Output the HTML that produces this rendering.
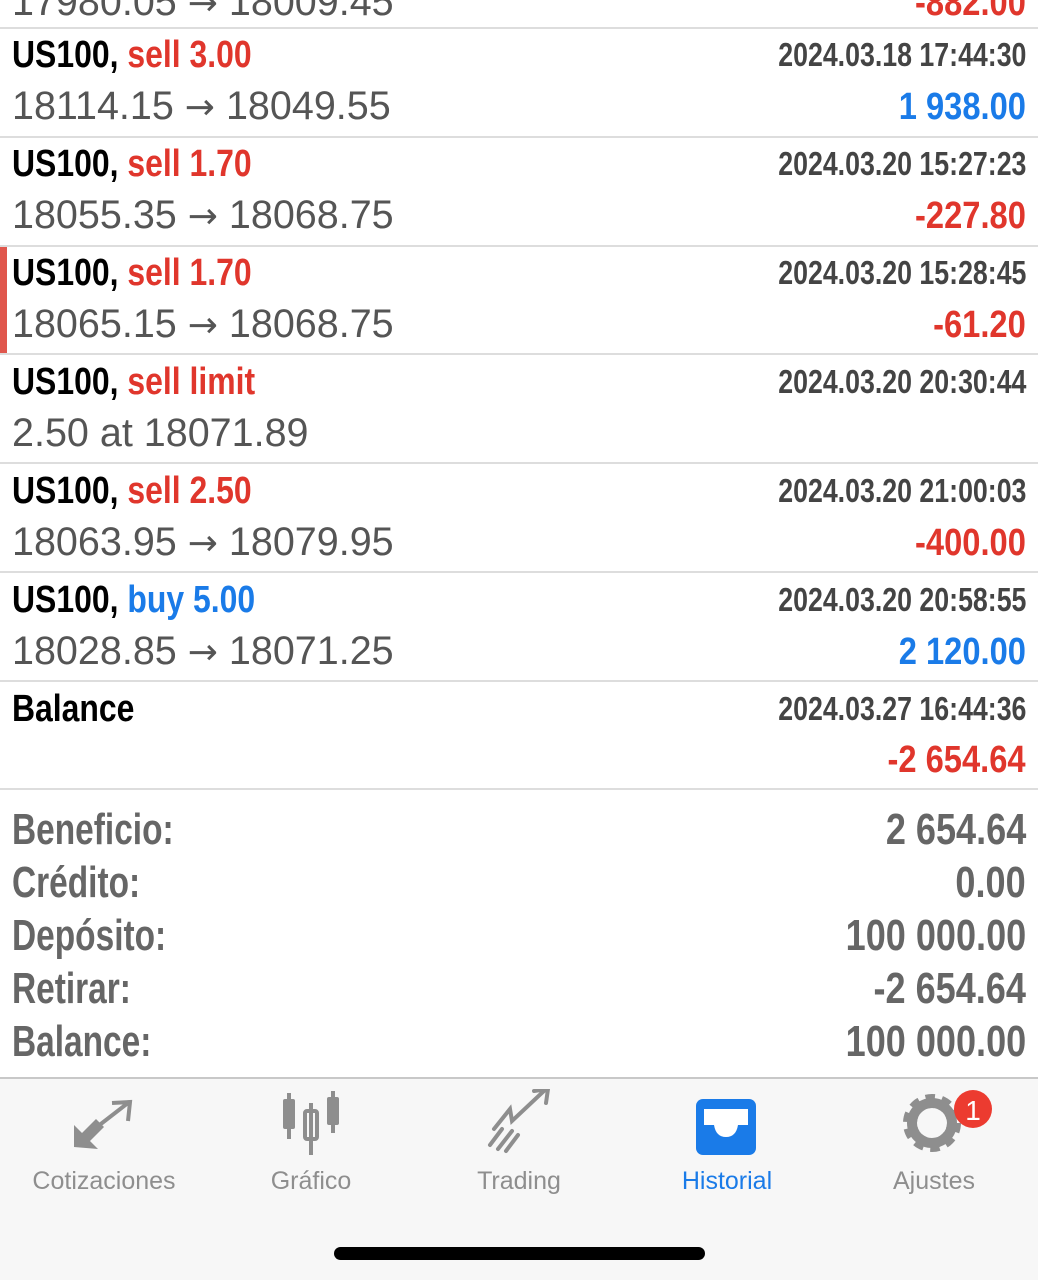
<!DOCTYPE html>
<html><head><meta charset="utf-8"><meta name="viewport" content="width=1038"><style>
html,body{margin:0;width:1038px;height:1280px;overflow:hidden}
body{background:#fff;position:relative;font-family:"Liberation Sans",sans-serif}
.a{position:absolute;white-space:nowrap;line-height:1}
.l{transform-origin:left top}.r{transform-origin:right top;text-align:right}
.t{font-size:38px;font-weight:bold;color:#000;transform:scaleX(.84)}
.p{font-size:39.5px;color:#555;top:0}
.ar{font-family:"DejaVu Sans",sans-serif;font-size:36px}
.d{font-size:33px;font-weight:bold;color:#444;transform:scaleX(.81)}
.m{font-size:38px;font-weight:bold;transform:scaleX(.86)}
.s{font-size:44px;font-weight:bold;color:#666;transform:scaleX(.82)}
.sl{transform:scaleX(.76)}
.red{color:#e0362c}.blue{color:#1a7be8}
.sep{position:absolute;left:0;width:1038px;height:2px;background:#ddd}
.tab{position:absolute;top:88px;font-size:25px;color:#8e8e8e;width:208px;text-align:center}
</style></head><body>
<div class="a l p" style="left:12px;top:-17px">17980.05 <span class="ar">→</span> 18009.45</div>
<div class="a r m red" style="right:12px;top:-16px">-882.00</div>
<div class="sep" style="top:27px"></div>

<div>
<div class="a l t" style="left:12px;top:36px">US100, <span class="red">sell 3.00</span></div>
<div class="a r d" style="right:12px;top:38px">2024.03.18 17:44:30</div>
<div class="a l p" style="left:12px;top:87px">18114.15 <span class="ar">→</span> 18049.55</div>
<div class="a r m blue" style="right:12px;top:88px">1 938.00</div>
</div>
<div class="sep" style="top:136px"></div>

<div>
<div class="a l t" style="left:12px;top:145px">US100, <span class="red">sell 1.70</span></div>
<div class="a r d" style="right:12px;top:147px">2024.03.20 15:27:23</div>
<div class="a l p" style="left:12px;top:196px">18055.35 <span class="ar">→</span> 18068.75</div>
<div class="a r m red" style="right:12px;top:197px">-227.80</div>
</div>
<div class="sep" style="top:245px"></div>

<div>
<div style="position:absolute;left:0;top:247px;width:7px;height:106px;background:#e0574d"></div>
<div class="a l t" style="left:12px;top:254px">US100, <span class="red">sell 1.70</span></div>
<div class="a r d" style="right:12px;top:256px">2024.03.20 15:28:45</div>
<div class="a l p" style="left:12px;top:305px">18065.15 <span class="ar">→</span> 18068.75</div>
<div class="a r m red" style="right:12px;top:306px">-61.20</div>
</div>
<div class="sep" style="top:353px"></div>

<div>
<div class="a l t" style="left:12px;top:363px">US100, <span class="red">sell limit</span></div>
<div class="a r d" style="right:12px;top:365px">2024.03.20 20:30:44</div>
<div class="a l p" style="left:12px;top:414px">2.50 at 18071.89</div>
</div>
<div class="sep" style="top:462px"></div>

<div>
<div class="a l t" style="left:12px;top:472px">US100, <span class="red">sell 2.50</span></div>
<div class="a r d" style="right:12px;top:474px">2024.03.20 21:00:03</div>
<div class="a l p" style="left:12px;top:523px">18063.95 <span class="ar">→</span> 18079.95</div>
<div class="a r m red" style="right:12px;top:524px">-400.00</div>
</div>
<div class="sep" style="top:571px"></div>

<div>
<div class="a l t" style="left:12px;top:581px">US100, <span class="blue">buy 5.00</span></div>
<div class="a r d" style="right:12px;top:583px">2024.03.20 20:58:55</div>
<div class="a l p" style="left:12px;top:632px">18028.85 <span class="ar">→</span> 18071.25</div>
<div class="a r m blue" style="right:12px;top:633px">2 120.00</div>
</div>
<div class="sep" style="top:680px"></div>

<div>
<div class="a l t" style="left:12px;top:690px">Balance</div>
<div class="a r d" style="right:12px;top:692px">2024.03.27 16:44:36</div>
<div class="a r m red" style="right:12px;top:741px">-2 654.64</div>
</div>
<div class="sep" style="top:788px"></div>

<div>
<div class="a l s sl" style="left:12px;top:808px">Beneficio:</div>
<div class="a r s" style="right:12px;top:808px">2 654.64</div>
<div class="a l s sl" style="left:12px;top:861px">Crédito:</div>
<div class="a r s" style="right:12px;top:861px">0.00</div>
<div class="a l s sl" style="left:12px;top:914px">Depósito:</div>
<div class="a r s" style="right:12px;top:914px">100 000.00</div>
<div class="a l s sl" style="left:12px;top:967px">Retirar:</div>
<div class="a r s" style="right:12px;top:967px">-2 654.64</div>
<div class="a l s sl" style="left:12px;top:1020px">Balance:</div>
<div class="a r s" style="right:12px;top:1020px">100 000.00</div>
</div>

<div style="position:absolute;left:0;top:1077px;width:1038px;height:203px;background:#f7f7f7;border-top:2px solid #c8c8c8;box-sizing:border-box">
<svg width="1038" height="90" style="position:absolute;left:0;top:10px">
<g fill="#8e8e8e" stroke="#8e8e8e">
<polygon points="74,58 74,36 82,44 96,30 104,38 90,52 98,60" stroke="none"/>
<path d="M84 48 L128 14 M112 14 L130 13 L128 32" fill="none" stroke-width="4"/>
</g>
<g fill="#8e8e8e">
<rect x="283" y="10" width="12" height="30" rx="2"/><rect x="287" y="4" width="4" height="46"/>
<rect x="305" y="22" width="12" height="28" rx="2" fill="none" stroke="#8e8e8e" stroke-width="4"/><rect x="309" y="14" width="4" height="52"/>
<rect x="327" y="8" width="12" height="28" rx="2"/><rect x="331" y="2" width="4" height="42"/>
</g>
<g fill="none" stroke="#8e8e8e" stroke-width="4" stroke-linecap="round">
<path d="M494 40 L510 20 L512 32 L546 0 M534 2 L548 0 L546 14"/>
<path d="M490 56 L502 40 M498 60 L512 42 M506 62 L518 46"/>
</g>
<g>
<rect x="696" y="10" width="60" height="56" rx="7" fill="#1a7be8"/>
<path d="M704 36 L704 20 L748 20 L748 36 L738 36 Q736 48 726 48 Q716 48 714 36 Z" fill="#fff"/>
</g>
<g>
<circle cx="932" cy="34" r="22" fill="none" stroke="#8e8e8e" stroke-width="14" stroke-dasharray="8 6"/>
<circle cx="932" cy="34" r="20" fill="none" stroke="#8e8e8e" stroke-width="10"/>
<circle cx="973" cy="20" r="19" fill="#ec3b30"/>
<text x="973" y="31" font-size="28" fill="#fff" text-anchor="middle" font-family="Liberation Sans">1</text>
</g>
</svg>
<div class="tab" style="left:0">Cotizaciones</div>
<div class="tab" style="left:207px">Gráfico</div>
<div class="tab" style="left:415px">Trading</div>
<div class="tab" style="left:623px;color:#1a7be8">Historial</div>
<div class="tab" style="left:830px">Ajustes</div>
<div style="position:absolute;left:334px;top:168px;width:371px;height:13px;border-radius:7px;background:#000"></div>
</div>
</body></html>
